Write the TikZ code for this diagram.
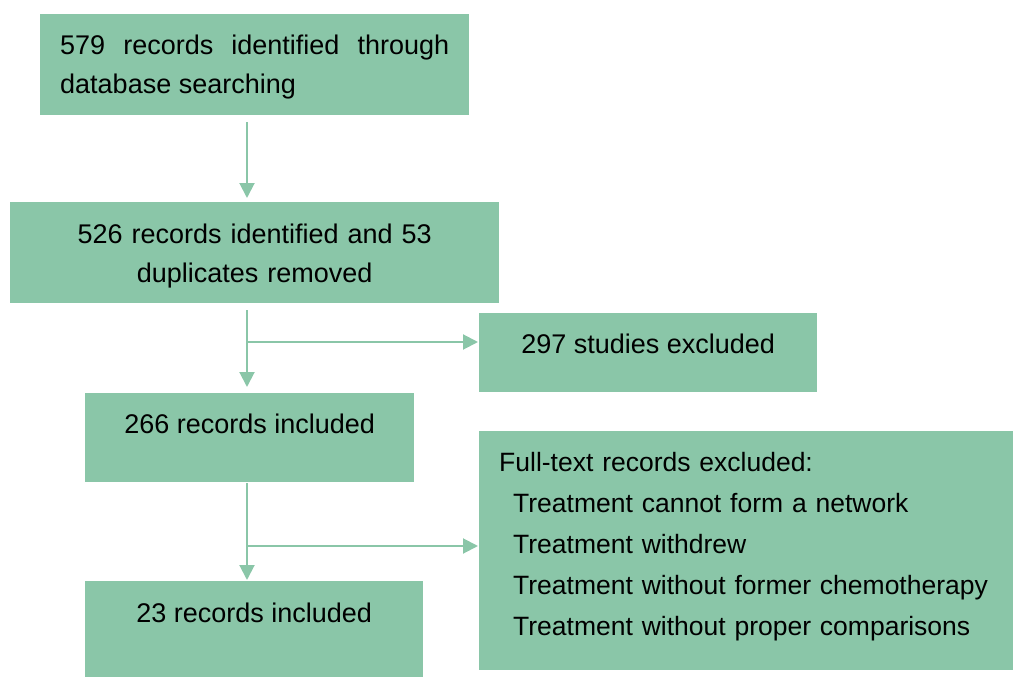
\documentclass[tikz,border=0pt]{standalone}
\usepackage{fontspec}
\setmainfont{Liberation Sans}
\usepackage{tikz}
\usetikzlibrary{positioning, arrows.meta}
\definecolor{flowgreen}{HTML}{8AC6A8}
\tikzset{record/.style={
        fill=flowgreen,
        rectangle,
        inner xsep=20pt,
        inner ysep=0pt,
        text height=40pt,
        anchor=north west,
        font=\fontsize{27}{39}\selectfont
}}
\tikzset{flowedge/.style={draw=flowgreen, line width=2pt, -{Triangle[width=15pt,length=15pt]}}}
\newcommand{\reason}[1]{\mbox{\hspace*{14pt}#1}}

\begin{document}
\begin{tikzpicture}[x=1pt,y=-1pt]
\useasboundingbox (0,0) rectangle (1013,677);
\node[record, text width=389pt, align=justify, text depth=61pt] (found) at (40,14) {579 records identified through database searching};
\node[record, text width=449pt, align=center, text height=41pt, text depth=60pt] (dedup) at (10,202) {526 records identified and 53\\duplicates removed};
\node[record, minimum width=338pt, minimum height=79pt, text depth=39pt] (excl1) at (479,313) {297 studies excluded};
\node[record, minimum width=329pt, minimum height=89pt, text depth=49pt] (incl1) at (85,393) {266 records included};
\node[record, text width=494pt, text depth=199pt, align=left, font=\fontsize{26.5}{41}\selectfont] (excl2) at (479,431) {\mbox{Full-text records excluded:}\\
  \reason{Treatment cannot form a network}\\
  \reason{Treatment withdrew}\\
  \reason{Treatment without former chemotherapy}\\
  \reason{Treatment without proper comparisons}};
\node[record, minimum width=338pt, minimum height=96pt, text height=41pt, text depth=55pt] (incl2) at (85,581) {23 records included};

\coordinate (spine) at (247,0);
\coordinate (split1) at (247,342);
\coordinate (split2) at (247,546);

\draw[flowedge, shorten <=7pt, shorten >=4pt] (spine |- found.south) -- (spine |- dedup.north);
\draw[flowedge, shorten <=7pt, shorten >=6pt] (spine |- dedup.south) -- (spine |- incl1.north);
\draw[flowedge, shorten >=1pt] (split1) -- (split1 -| excl1.west);
\draw[flowedge, shorten <=1pt, shorten >=1pt] (spine |- incl1.south) -- (spine |- incl2.north);
\draw[flowedge, shorten >=1pt] (split2) -- (split2 -| excl2.west);
\end{tikzpicture}
\end{document}
